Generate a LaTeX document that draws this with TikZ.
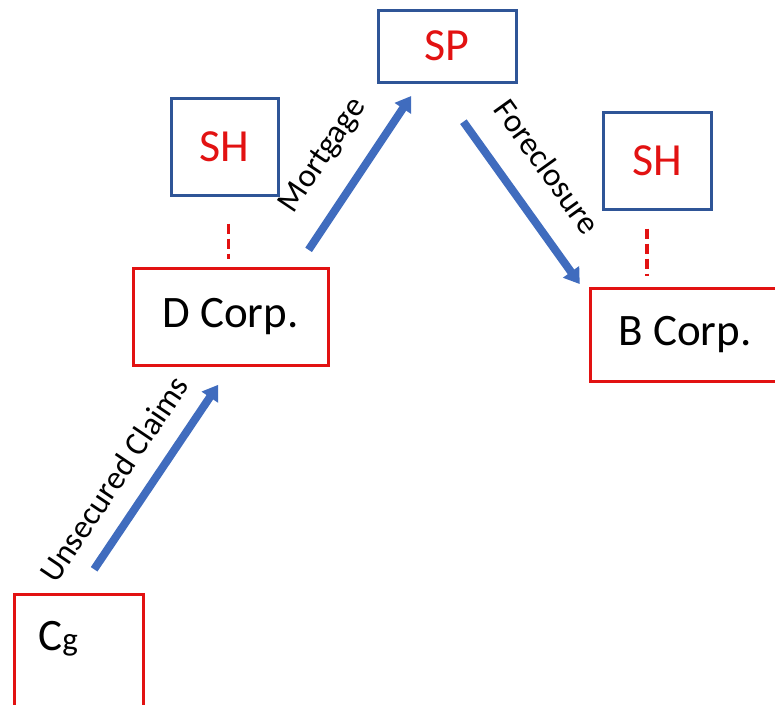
\documentclass[tikz,border=0pt]{standalone}
\usepackage{fontspec}
\setmainfont{Carlito}
\usetikzlibrary{arrows.meta,positioning}
\definecolor{boxred}{RGB}{226,18,18}
\definecolor{boxblue}{RGB}{47,85,151}
\definecolor{arrowblue}{RGB}{64,108,190}
\tikzset{
  redbox/.style={draw=boxred,line width=3pt,inner sep=0pt,minimum height=97pt,font=\fontsize{45}{54}\selectfont},
  bluebox/.style={draw=boxblue,line width=3pt,inner sep=0pt,text=boxred,font=\fontsize{46}{54}\selectfont},
  flow/.style={arrowblue,line width=8pt,-{Triangle[width=19pt,length=15pt]}},
  tie/.style={boxred,line width=3.5pt,dash pattern=on 10pt off 5pt},
  lbl/.style={sloped,anchor=south,inner sep=0pt,text=black,font=\fontsize{33}{40}\selectfont}
}

\begin{document}
\begin{tikzpicture}[x=1pt,y=-1pt]
	\clip (0,0) rectangle (775,704);

	\node[bluebox,minimum width=138pt,minimum height=72pt] at (447,46) (sp) {SP};
	\node[bluebox,minimum width=107pt,minimum height=97pt] at (224.5,146.5) (shd) {SH};
	\node[bluebox,minimum width=108pt,minimum height=97pt] at (657,160.5) (shb) {SH};

	\node[redbox,minimum width=195pt] at (230.5,316.5) (dcorp) {D Corp.};
	\node[redbox,minimum width=190pt,minimum height=93pt] at (685,334.5) (bcorp) {B Corp.};
	\node[redbox,minimum width=129pt,minimum height=125pt,text width=80pt,text height=30pt,text depth=43pt] at (78.5,656.5) (cg) {C{\fontsize{33}{38}\selectfont g}};

	\draw[tie,shorten <=27pt,shorten >=8pt] ([xshift=4pt]shd.south) -- ([xshift=4pt]shd.south |- dcorp.north);
	\draw[tie,shorten <=18pt,shorten >=11pt] ([xshift=-10pt]shb.south) -- ([xshift=-10pt]shb.south |- bcorp.north);

	\draw[flow,shorten <=28pt,shorten >=22pt] (cg.north) -- node[lbl,pos=0.42,text depth=19pt] {Unsecured Claims} (dcorp.south);
	\draw[flow,shorten <=20pt,shorten >=15pt] ([xshift=-32pt]dcorp.north east) -- node[lbl,pos=0.485,text depth=28pt] {Mortgage} ([xshift=43pt]sp.south west);
	\draw[flow,shorten <=47pt,shorten >=3pt] ([xshift=-11pt]sp.south) -- node[lbl,pos=0.53,text depth=27pt] {Foreclosure} ([xshift=-7pt]bcorp.north west);
\end{tikzpicture}
\end{document}
